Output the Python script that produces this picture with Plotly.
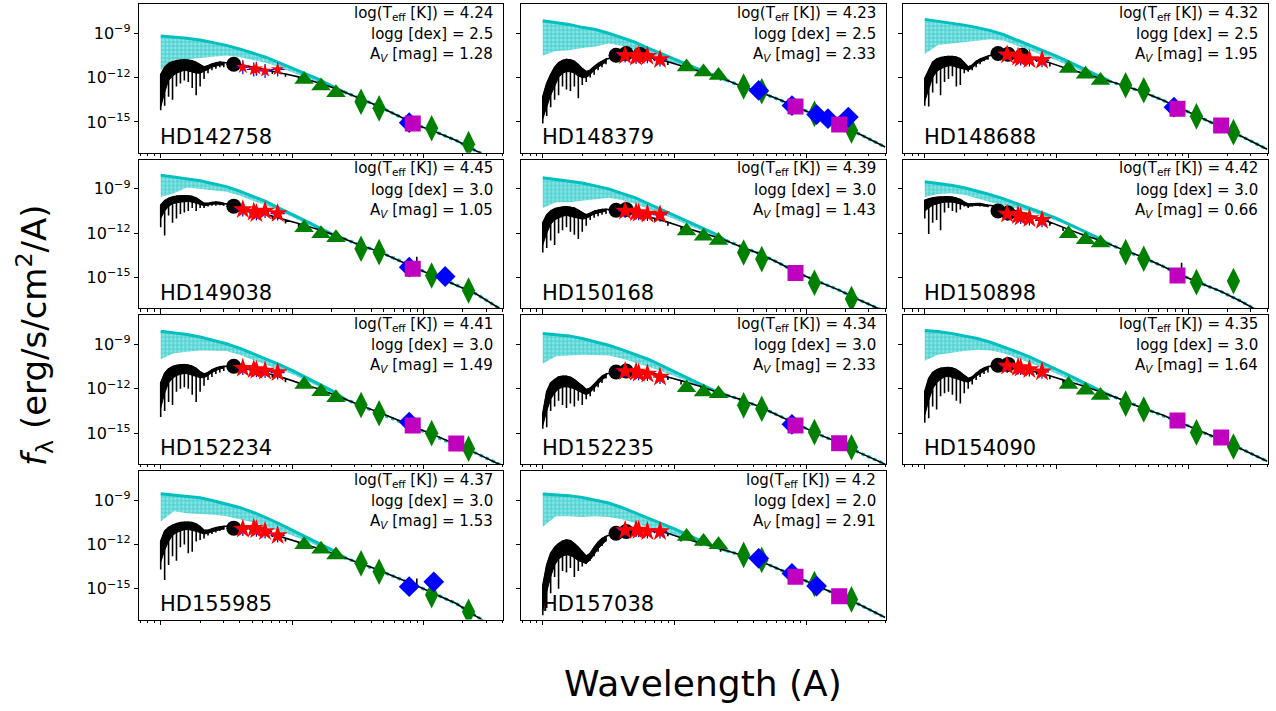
import plotly.graph_objects as go

# ---------------- panel labels ----------------
NAMES = ["HD142758", "HD148379", "HD148688", "HD149038", "HD150168", "HD150898",
         "HD152234", "HD152235", "HD154090", "HD155985", "HD157038"]
LOG_TEFF = ["4.24", "4.23", "4.32", "4.45", "4.39", "4.42", "4.41", "4.34", "4.35", "4.37", "4.2"]
LOGG = ["2.5", "2.5", "2.5", "3.0", "3.0", "3.0", "3.0", "3.0", "3.0", "3.0", "2.0"]
AV = ["1.28", "2.33", "1.95", "1.05", "1.43", "0.66", "1.49", "2.33", "1.64", "1.53", "2.91"]

# ---------------- model spectra (log10 wavelength [A], log10 flux) ----------------
UV_LOGLAM = [3.00, 3.03, 3.06, 3.09, 3.12, 3.15, 3.18, 3.21, 3.24, 3.27, 3.30, 3.33, 3.36, 3.39, 3.42, 3.45, 3.48]
OPT_LOGLAM = [3.55, 3.65, 3.75, 3.85, 3.95, 4.05, 4.20, 4.35, 4.50, 4.65, 4.80, 4.95, 5.10, 5.25, 5.40, 5.60]
CYAN_LOGLAM = [3.0, 3.1, 3.2, 3.3, 3.4, 3.5, 3.6, 3.7, 3.8, 3.9, 4.0, 4.1, 4.2, 4.3, 4.4]

BLACK_UV_TOP = [
    [-11.8, -11.3, -11.05, -10.93, -10.86, -10.82, -10.8, -10.82, -10.87, -10.97, -11.12, -11.28, -11.2, -11.08, -11.0, -10.96, -10.98],
    [-13.3, -12.4, -11.8, -11.3, -11.0, -10.85, -10.78, -10.8, -10.9, -11.12, -11.4, -11.6, -11.5, -11.25, -11.05, -10.9, -10.75],
    [-12.07, -11.5, -10.95, -10.75, -10.65, -10.6, -10.57, -10.57, -10.62, -10.72, -11.0, -11.28, -11.15, -10.9, -10.75, -10.65, -10.55],
    [-10.1, -9.8, -9.65, -9.55, -9.5, -9.48, -9.47, -9.48, -9.52, -9.62, -9.8, -9.98, -9.98, -9.92, -9.9, -9.92, -9.98],
    [-11.3, -10.75, -10.5, -10.35, -10.28, -10.23, -10.22, -10.25, -10.3, -10.45, -10.62, -10.75, -10.65, -10.52, -10.45, -10.4, -10.38],
    [-9.77, -9.68, -9.62, -9.58, -9.55, -9.54, -9.54, -9.57, -9.63, -9.72, -9.9, -10.03, -10.02, -10.0, -10.0, -10.05, -10.1],
    [-11.6, -10.95, -10.65, -10.5, -10.42, -10.38, -10.37, -10.4, -10.48, -10.62, -10.85, -11.0, -10.9, -10.72, -10.6, -10.52, -10.48],
    [-13.7, -12.2, -11.6, -11.38, -11.2, -11.15, -11.15, -11.22, -11.38, -11.6, -11.8, -12.05, -11.95, -11.7, -11.4, -11.15, -11.0],
    [-12.2, -11.3, -10.9, -10.72, -10.62, -10.58, -10.57, -10.6, -10.7, -10.88, -11.1, -11.3, -11.2, -10.95, -10.75, -10.6, -10.5],
    [-11.8, -11.1, -10.85, -10.7, -10.6, -10.53, -10.5, -10.5, -10.53, -10.62, -10.8, -11.05, -11.05, -10.95, -10.87, -10.82, -10.78],
    [-14.8, -13.4, -12.6, -12.2, -11.95, -11.78, -11.7, -11.75, -11.95, -12.2, -12.5, -12.8, -12.6, -12.2, -11.85, -11.6, -11.45],
]
# lower edge of the dense line-blanketed band
BLACK_UV_FLOOR = [
    [-14.0, -13.0, -12.2, -11.9, -11.7, -11.6, -11.5, -11.55, -11.6, -11.7, -11.7, -11.6, -11.45, -11.3, -11.2, -11.15, -11.15],
    [-14.8, -14.0, -13.2, -12.6, -12.0, -11.7, -11.6, -11.6, -11.7, -11.9, -12.0, -12.0, -11.8, -11.5, -11.3, -11.1, -10.95],
    [-13.6, -12.8, -12.0, -11.6, -11.4, -11.3, -11.2, -11.2, -11.3, -11.4, -11.45, -11.5, -11.35, -11.1, -10.95, -10.8, -10.7],
    [-11.0, -10.5, -10.2, -10.0, -9.95, -9.9, -9.85, -9.85, -9.9, -9.95, -10.05, -10.15, -10.12, -10.05, -10.02, -10.03, -10.08],
    [-12.8, -12.0, -11.4, -11.1, -10.95, -10.85, -10.8, -10.85, -10.9, -11.0, -11.05, -11.0, -10.85, -10.7, -10.6, -10.55, -10.5],
    [-10.5, -10.3, -10.1, -10.0, -9.95, -9.9, -9.88, -9.9, -9.95, -10.0, -10.1, -10.18, -10.15, -10.12, -10.12, -10.15, -10.2],
    [-13.3, -12.3, -11.6, -11.3, -11.1, -11.0, -10.95, -11.0, -11.05, -11.15, -11.25, -11.25, -11.1, -10.9, -10.75, -10.65, -10.6],
    [-14.5, -13.5, -12.7, -12.3, -12.0, -11.9, -11.85, -11.9, -12.0, -12.15, -12.3, -12.4, -12.25, -12.0, -11.7, -11.4, -11.2],
    [-13.8, -12.8, -12.0, -11.6, -11.35, -11.2, -11.15, -11.2, -11.3, -11.4, -11.5, -11.55, -11.4, -11.15, -10.95, -10.8, -10.65],
    [-13.2, -12.4, -11.8, -11.4, -11.2, -11.1, -11.0, -11.0, -11.05, -11.1, -11.2, -11.3, -11.25, -11.15, -11.05, -11.0, -10.95],
    [-16.5, -15.2, -14.2, -13.4, -13.0, -12.8, -12.7, -12.75, -12.9, -13.1, -13.2, -13.3, -13.05, -12.7, -12.3, -12.0, -11.75],
]
BLACK_UV_DIP = [
    [-14.2, -13.9, -13.3, -13.5, -12.6, -12.4, -12.2, -12.3, -12.7, -13.2, -12.6, -12.1, -11.7, -11.5, -11.4, -11.3, -11.3],
    [-15.1, -14.6, -14.0, -13.5, -13.2, -12.6, -12.8, -12.9, -12.6, -13.4, -12.5, -12.3, -12.0, -11.8, -11.5, -11.3, -11.1],
    [-13.9, -13.95, -13.0, -12.4, -13.2, -12.3, -12.1, -11.9, -12.6, -12.5, -11.7, -11.6, -11.5, -11.3, -11.1, -10.9, -10.8],
    [-11.6, -12.15, -10.8, -11.3, -11.0, -10.7, -10.6, -10.5, -10.3, -10.5, -10.3, -10.3, -10.2, -10.15, -10.15, -10.1, -10.15],
    [-13.3, -13.0, -12.5, -12.8, -12.0, -11.8, -11.6, -11.9, -12.1, -12.4, -11.9, -11.5, -11.1, -10.95, -10.85, -10.75, -10.7],
    [-11.0, -12.05, -11.3, -11.1, -11.8, -10.6, -10.3, -10.5, -10.6, -10.4, -10.2, -10.3, -10.2, -10.15, -10.2, -10.2, -10.25],
    [-13.9, -13.5, -12.9, -13.1, -12.2, -12.0, -11.9, -12.0, -12.4, -12.9, -12.2, -11.8, -11.4, -11.2, -11.0, -10.9, -10.8],
    [-14.7, -14.6, -13.5, -13.2, -12.8, -13.1, -13.3, -13.0, -13.2, -12.8, -13.1, -12.7, -12.5, -12.2, -11.9, -11.6, -11.3],
    [-14.3, -14.0, -13.2, -13.4, -12.5, -12.3, -12.2, -12.4, -12.8, -13.0, -12.3, -12.0, -11.7, -11.4, -11.2, -11.0, -10.9],
    [-13.7, -14.4, -13.4, -12.8, -13.1, -12.2, -12.0, -12.6, -12.5, -11.8, -11.7, -11.6, -11.4, -11.3, -11.2, -11.1, -11.0],
    [-16.8, -16.3, -15.3, -14.2, -15.0, -13.8, -13.9, -13.6, -14.2, -13.8, -13.5, -13.3, -13.1, -12.8, -12.5, -12.1, -11.8],
]
BLACK_OPT = [
    [-11.05, -11.2, -11.38, -11.57, -11.76, -11.95, -12.35, -12.8, -13.35, -13.9, -14.55, -15.2, -15.7, -16.25, -16.95, -17.8],
    [-10.6, -10.5, -10.55, -10.7, -10.92, -11.2, -11.6, -12.0, -12.55, -12.98, -13.5, -14.05, -14.65, -15.25, -15.8, -16.7],
    [-10.35, -10.42, -10.55, -10.75, -11.0, -11.3, -11.7, -12.1, -12.5, -12.95, -13.5, -14.1, -14.7, -15.3, -15.95, -16.85],
    [-10.1, -10.35, -10.6, -10.85, -11.1, -11.35, -11.75, -12.2, -12.75, -13.2, -13.8, -14.4, -14.95, -15.5, -16.1, -17.2],
    [-10.42, -10.6, -10.8, -11.0, -11.25, -11.55, -11.95, -12.35, -12.9, -13.4, -14.05, -14.75, -15.3, -15.85, -16.5, -17.3],
    [-10.18, -10.4, -10.62, -10.95, -11.25, -11.6, -12.1, -12.55, -13.1, -13.6, -14.2, -14.85, -15.4, -15.95, -16.6, -17.6],
    [-10.47, -10.6, -10.8, -11.05, -11.3, -11.6, -12.0, -12.5, -13.05, -13.55, -14.1, -14.65, -15.2, -15.75, -16.35, -17.2],
    [-10.86, -10.75, -10.8, -10.98, -11.2, -11.45, -11.85, -12.3, -12.72, -13.22, -13.85, -14.5, -15.1, -15.65, -16.3, -17.1],
    [-10.42, -10.48, -10.65, -10.88, -11.12, -11.4, -11.8, -12.25, -12.75, -13.3, -13.75, -14.3, -14.9, -15.45, -16.05, -16.9],
    [-10.75, -10.85, -11.05, -11.3, -11.58, -11.85, -12.28, -12.72, -13.22, -13.7, -14.25, -14.8, -15.4, -16.0, -16.85, -17.9],
    [-11.24, -11.03, -11.0, -11.08, -11.25, -11.55, -11.9, -12.3, -12.7, -13.12, -13.7, -14.3, -14.9, -15.45, -16.05, -16.95],
]
BLACK_OPT_DIP = [
    [-11.05, -11.35, -11.5, -11.75, -11.95, -12.2, -12.55, -12.95, -13.5, -14.1, -14.55, -15.2, -15.7, -16.25, -16.95, -17.8],
    [-10.6, -10.65, -10.7, -10.9, -11.15, -11.45, -11.8, -12.2, -12.7, -13.15, -13.5, -14.05, -14.65, -15.25, -15.8, -16.7],
    [-10.35, -10.55, -10.7, -10.95, -11.25, -11.55, -11.9, -12.3, -12.65, -13.15, -13.5, -14.1, -14.7, -15.3, -15.95, -16.85],
    [-10.1, -10.5, -10.75, -11.05, -11.35, -11.6, -11.95, -12.4, -12.9, -13.4, -13.8, -13.6, -14.95, -15.5, -16.1, -17.2],
    [-10.42, -10.75, -10.95, -11.2, -11.5, -11.8, -12.15, -12.55, -13.05, -13.6, -14.05, -14.75, -15.3, -15.85, -16.5, -17.3],
    [-10.18, -10.55, -10.8, -11.15, -11.5, -11.85, -12.3, -12.75, -13.25, -13.85, -14.2, -14.0, -15.4, -15.95, -16.6, -17.6],
    [-10.47, -10.75, -10.95, -11.25, -11.55, -11.85, -12.2, -12.7, -13.2, -13.75, -14.1, -14.2, -15.2, -15.75, -16.35, -17.2],
    [-10.86, -10.9, -10.95, -11.15, -11.4, -11.7, -12.05, -12.5, -12.9, -13.4, -13.85, -14.5, -15.1, -15.65, -16.3, -17.1],
    [-10.42, -10.6, -10.8, -11.05, -11.35, -11.65, -12.0, -12.45, -12.9, -13.5, -13.75, -14.3, -14.9, -15.45, -16.05, -16.9],
    [-10.75, -11.0, -11.2, -11.5, -11.8, -12.1, -12.45, -12.9, -13.4, -13.9, -14.25, -14.3, -15.4, -16.0, -16.85, -17.9],
    [-11.24, -11.15, -11.15, -11.25, -11.45, -11.8, -12.1, -12.5, -12.85, -13.3, -13.7, -14.3, -14.9, -15.45, -16.05, -16.95],
]
CYAN_TOP = [
    [-9.18, -9.25, -9.33, -9.45, -9.62, -9.82, -10.06, -10.33, -10.62, -10.98, -11.35, -11.75, -12.1, -12.55, -13.0],
    [-8.16, -8.28, -8.4, -8.6, -8.75, -9.0, -9.3, -9.6, -10.0, -10.38, -10.75, -11.15, -11.5, -11.85, -12.2],
    [-8.06, -8.18, -8.32, -8.45, -8.62, -8.82, -9.1, -9.45, -9.8, -10.15, -10.55, -10.95, -11.4, -11.8, -12.2],
    [-8.07, -8.2, -8.3, -8.45, -8.65, -8.85, -9.15, -9.5, -9.85, -10.3, -10.7, -11.15, -11.6, -12.05, -12.4],
    [-8.25, -8.35, -8.45, -8.6, -8.8, -9.0, -9.3, -9.6, -10.0, -10.4, -10.8, -11.2, -11.6, -12.0, -12.55],
    [-8.52, -8.62, -8.75, -8.92, -9.15, -9.4, -9.68, -10.0, -10.3, -10.65, -11.0, -11.4, -11.8, -12.25, -12.73],
    [-8.1, -8.2, -8.33, -8.5, -8.7, -8.95, -9.25, -9.6, -9.95, -10.35, -10.75, -11.2, -11.65, -12.1, -12.68],
    [-8.26, -8.32, -8.42, -8.6, -8.8, -9.05, -9.35, -9.65, -10.0, -10.42, -10.85, -11.3, -11.7, -12.1, -12.44],
    [-8.05, -8.12, -8.25, -8.42, -8.6, -8.85, -9.15, -9.5, -9.85, -10.25, -10.65, -11.1, -11.55, -12.0, -12.42],
    [-8.57, -8.65, -8.75, -8.85, -9.05, -9.25, -9.5, -9.82, -10.18, -10.6, -11.05, -11.5, -11.9, -12.35, -12.88],
    [-8.59, -8.62, -8.7, -8.82, -9.0, -9.2, -9.5, -9.86, -10.2, -10.58, -10.95, -11.35, -11.75, -12.15, -12.43],
]
CYAN_BOT = [
    [-11.5, -10.8, -10.75, -10.7, -10.6, -10.5, -10.6, -10.8, -11.0, -11.3, -11.6, -11.95, -12.3, -12.65, -13.0],
    [-10.5, -10.2, -10.15, -10.0, -9.9, -9.7, -9.85, -10.1, -10.4, -10.7, -11.0, -11.3, -11.6, -11.9, -12.2],
    [-10.4, -9.8, -9.75, -9.6, -9.5, -9.4, -9.5, -9.8, -10.15, -10.5, -10.85, -11.2, -11.6, -11.95, -12.2],
    [-9.55, -9.3, -8.9, -8.95, -9.1, -9.2, -9.45, -9.8, -10.1, -10.5, -10.9, -11.3, -11.75, -12.15, -12.4],
    [-10.3, -9.9, -9.9, -9.8, -9.7, -9.6, -9.75, -10.0, -10.35, -10.7, -11.05, -11.45, -11.8, -12.2, -12.55],
    [-9.55, -9.35, -9.3, -9.4, -9.65, -9.9, -10.1, -10.3, -10.55, -10.85, -11.15, -11.5, -11.9, -12.3, -12.73],
    [-10.0, -9.6, -9.5, -9.4, -9.4, -9.45, -9.7, -10.0, -10.35, -10.7, -11.0, -11.4, -11.85, -12.3, -12.68],
    [-10.3, -9.8, -9.75, -9.7, -9.7, -9.75, -9.95, -10.2, -10.5, -10.8, -11.1, -11.5, -11.85, -12.2, -12.44],
    [-10.1, -9.7, -9.6, -9.45, -9.35, -9.4, -9.6, -9.9, -10.25, -10.6, -10.95, -11.35, -11.75, -12.15, -12.42],
    [-10.45, -9.75, -9.9, -9.95, -10.0, -10.1, -10.3, -10.5, -10.8, -11.1, -11.4, -11.75, -12.1, -12.5, -12.88],
    [-10.8, -10.1, -10.1, -10.15, -10.1, -10.15, -10.3, -10.55, -10.8, -11.1, -11.4, -11.7, -12.0, -12.3, -12.43],
]

# ---------------- photometry (wavelength [A], log10 flux) ----------------
CIRCLE_LAM = [3600, 4300, 5500]
CIRCLE_LOGF = [
    [-11.1, None, None], [-10.49, -10.37, -10.44], [-10.37, -10.42, -10.49], [-10.17, None, None],
    [-10.45, -10.4, None], [-10.49, -10.63, None], [-10.47, None, None], [-10.86, -10.79, None],
    [-10.41, -10.35, None], [-10.9, None, None], [-11.24, -11.13, None],
]
STAR_LAM = [4220, 5110, 5350, 6230, 7770]
STAR_LOGF = [
    [-11.3, -11.45, -11.4, -11.55, -11.45], [-10.5, -10.6, -10.5, -10.55, -10.78],
    [-10.45, -10.6, -10.7, -10.78, -10.83], [-10.4, -10.56, -10.67, -10.5, -10.67],
    [-10.5, -10.6, -10.65, -10.7, -10.75], [-10.7, -10.8, -10.9, -11.0, -11.13],
    [-10.6, -10.7, -10.75, -10.8, -10.9], [-10.82, -10.86, -10.95, -11.0, -11.2],
    [-10.45, -10.55, -10.6, -10.7, -10.85], [-10.95, -10.9, -11.0, -11.13, -11.4],
    [-11.05, -11.02, -11.05, -11.13, -11.13],
]
TWOMASS_LAM = [12350, 16620, 21590]
TWOMASS_LOGF = [
    [-12.12, -12.56, -13.02], [-11.28, -11.62, -11.85], [-11.39, -11.78, -12.19], [-11.63, -12.03, -12.31],
    [-11.85, -12.2, -12.5], [-12.03, -12.44, -12.67], [-11.7, -12.2, -12.6], [-11.92, -12.22, -12.33],
    [-11.7, -12.1, -12.45], [-12.03, -12.33, -12.71], [-11.47, -11.81, -12.03],
]
WISE_LAM = [33526, 46028, 115608, 220883]
WISE_LOGF = [
    [-13.63, -14.08, -15.43, -16.5], [-12.6, -12.92, -14.45, -15.58], [-12.52, -12.86, -14.62, -15.69],
    [-13.05, -13.28, -14.86, -15.88], [-13.3, -13.75, -15.35, -16.45], [-13.28, -13.73, -15.31, -15.24],
    [-13.1, -13.65, -15.0, -16.05], [-13.12, -13.35, -14.93, -15.95], [-13.0, -13.4, -14.95, -15.9],
    [-13.28, -13.85, -15.43, -16.56], [-12.71, -13.05, -14.68, -15.72],
]
AKARI_LAM = [83000, 178000]
AKARI_LOGF = [
    [-15.1, None], [-13.95, -15.17], [-14.11, -15.24], [-14.41, None], [-14.7, None], [-14.86, None],
    [-14.48, -15.7], [-14.48, -15.68], [-14.14, -15.3], [None, None], [-14.18, -15.5],
]
MSX_LAM = [43600, 78000, 120000, 146500, 209000]
MSX_LOGF = [
    [None, -15.05, None, None, None], [-12.87, -13.89, -14.5, -14.78, -14.67],
    [None, -14.0, None, None, None], [None, -14.3, None, -14.93, None],
    [None, None, None, None, None], [None, None, None, None, None],
    [None, -14.25, None, None, None], [None, -14.4, None, None, None],
    [None, None, None, None, None], [None, -14.86, -14.53, None, None],
    [-12.94, -13.96, -14.82, None, None],
]

# ---------------- layout geometry ----------------
W, H = 1276, 711
COL_PX = [(139.3, 502.7), (521.3, 885.7), (903.3, 1267.7)]
ROW_PX = [(4.0, 152.7), (159.6, 308.3), (315.2, 463.9), (470.8, 619.5)]
XRANGE = [2.837, 5.604]
YRANGE = [-17.08, -7.02]
FONT = "DejaVu Sans"
CYAN = "#00bfbf"
GREEN = "#008000"
BLUE = "#0000ff"
MAGENTA = "#bf00bf"
RED = "#ff0000"

MINOR_X = [k * 10 ** d for d in range(2, 6) for k in range(2, 10)]


def pw(v):
    return [10 ** a for a in v]


def pts(lams, vals):
    xs = [l for l, v in zip(lams, vals) if v is not None]
    ys = [10 ** v for v in vals if v is not None]
    return xs, ys


fig = go.Figure()
layout = dict(
    width=W, height=H, autosize=False,
    margin=dict(l=0, r=0, t=0, b=0),
    paper_bgcolor="white", plot_bgcolor="white",
    showlegend=False,
    font=dict(family=FONT, color="black"),
)
annotations = []

for i, name in enumerate(NAMES):
    r, c = divmod(i, 3)
    sfx = "" if i == 0 else str(i + 1)
    xa, ya = "x" + sfx, "y" + sfx

    # --- cyan unreddened model: dotted band + dense top edge ---
    cx = CYAN_LOGLAM + CYAN_LOGLAM[::-1]
    cy = CYAN_TOP[i] + CYAN_BOT[i][::-1]
    fig.add_trace(go.Scatter(
        x=pw(cx), y=pw(cy), xaxis=xa, yaxis=ya, mode="lines",
        line=dict(width=0, color=CYAN), fill="toself", fillcolor="rgba(0,191,191,0.35)",
        fillpattern=dict(shape=".", fgcolor=CYAN, size=4, solidity=0.7, fillmode="overlay"),
        hoverinfo="skip"))
    fig.add_trace(go.Scatter(
        x=pw(CYAN_LOGLAM), y=pw(CYAN_TOP[i]), xaxis=xa, yaxis=ya, mode="lines",
        line=dict(width=3, color=CYAN), hoverinfo="skip"))
    ir_x = [v for v in OPT_LOGLAM if v >= 4.35]
    ir_y = BLACK_OPT[i][len(OPT_LOGLAM) - len(ir_x):]
    fig.add_trace(go.Scatter(
        x=pw(ir_x), y=pw(ir_y), xaxis=xa, yaxis=ya, mode="lines",
        line=dict(width=3.2, color=CYAN, dash="dot"), hoverinfo="skip"))

    # --- black reddened model: dense UV band + absorption spikes ---
    bx = UV_LOGLAM + UV_LOGLAM[::-1]
    by = BLACK_UV_TOP[i] + BLACK_UV_FLOOR[i][::-1]
    fig.add_trace(go.Scatter(
        x=pw(bx), y=pw(by), xaxis=xa, yaxis=ya, mode="lines",
        line=dict(width=1, color="black"), fill="toself", fillcolor="black", hoverinfo="skip"))
    kx, ky = [], []
    for lam, top, dip in zip(UV_LOGLAM + OPT_LOGLAM, BLACK_UV_TOP[i] + BLACK_OPT[i],
                             BLACK_UV_DIP[i] + BLACK_OPT_DIP[i]):
        kx += [lam, lam, lam]
        ky += [top, dip, top]
    fig.add_trace(go.Scatter(
        x=pw(kx), y=pw(ky), xaxis=xa, yaxis=ya, mode="lines",
        line=dict(width=1.6, color="black"), hoverinfo="skip"))

    # circles
    x_, y_ = pts(CIRCLE_LAM, CIRCLE_LOGF[i])
    fig.add_trace(go.Scatter(x=x_, y=y_, xaxis=xa, yaxis=ya, mode="markers",
                             marker=dict(symbol="circle", size=15, color="black", line=dict(width=0))))
    # blue error crosses + red stars
    x_, y_ = pts(STAR_LAM, STAR_LOGF[i])
    fig.add_trace(go.Scatter(x=x_, y=y_, xaxis=xa, yaxis=ya, mode="markers",
                             marker=dict(symbol="cross-thin", size=10, color=BLUE,
                                         line=dict(width=1.2, color=BLUE))))
    fig.add_trace(go.Scatter(x=x_, y=y_, xaxis=xa, yaxis=ya, mode="markers",
                             marker=dict(symbol="star", size=10 if i == 0 else 15, color=RED,
                                         line=dict(width=0))))
    # 2MASS triangles
    x_, y_ = pts(TWOMASS_LAM, TWOMASS_LOGF[i])
    fig.add_trace(go.Scatter(x=x_, y=y_, xaxis=xa, yaxis=ya, mode="markers",
                             marker=dict(symbol="triangle-up", size=17, color=GREEN, line=dict(width=0))))
    # WISE thin diamonds
    x_, y_ = pts(WISE_LAM, WISE_LOGF[i])
    fig.add_trace(go.Scatter(x=x_, y=y_, xaxis=xa, yaxis=ya, mode="markers",
                             marker=dict(symbol="diamond-tall", size=19, color=GREEN, line=dict(width=0))))
    # MSX blue diamonds
    x_, y_ = pts(MSX_LAM, MSX_LOGF[i])
    if x_:
        fig.add_trace(go.Scatter(x=x_, y=y_, xaxis=xa, yaxis=ya, mode="markers",
                                 marker=dict(symbol="diamond", size=16, color=BLUE, line=dict(width=0))))
    # magenta squares
    x_, y_ = pts(AKARI_LAM, AKARI_LOGF[i])
    if x_:
        fig.add_trace(go.Scatter(x=x_, y=y_, xaxis=xa, yaxis=ya, mode="markers",
                                 marker=dict(symbol="square", size=16, color=MAGENTA, line=dict(width=0))))

    x0, x1 = COL_PX[c]
    y0, y1 = ROW_PX[r]
    layout["xaxis" + sfx] = dict(
        domain=[x0 / W, x1 / W], anchor=ya, type="log", range=XRANGE,
        showgrid=False, zeroline=False, showline=True, mirror=True, linecolor="black", linewidth=1,
        ticks="outside", ticklen=4.5, tickwidth=1, tickcolor="black",
        tickvals=[1e3, 1e4, 1e5], showticklabels=False,
        minor=dict(ticks="outside", ticklen=2.5, tickwidth=0.8, tickcolor="black", tickvals=MINOR_X, showgrid=False),
    )
    layout["yaxis" + sfx] = dict(
        domain=[1 - y1 / H, 1 - y0 / H], anchor=xa, type="log", range=YRANGE,
        showgrid=False, zeroline=False, showline=True, mirror=True, linecolor="black", linewidth=1,
        ticks="outside", ticklen=4.5, tickwidth=1, tickcolor="black",
        tickvals=[1e-9, 1e-12, 1e-15],
        ticktext=["10<sup>\u22129</sup>", "10<sup>\u221212</sup>", "10<sup>\u221215</sup>"],
        showticklabels=(c == 0), tickfont=dict(family=FONT, size=16, color="black"),
    )

    lines = [
        "log(T<sub>eff</sub> [K]) = " + LOG_TEFF[i],
        "logg [dex] = " + LOGG[i],
        "A<sub><i>V</i></sub> [mag] = " + AV[i],
    ]
    for txt, yy in zip(lines, [0.937, 0.798, 0.659]):
        annotations.append(dict(
            text=txt, xref=xa + " domain", yref=ya + " domain", x=0.979, y=yy,
            xanchor="right", yanchor="middle", showarrow=False,
            font=dict(family=FONT, size=15, color="black")))
    annotations.append(dict(
        text=name, xref=xa + " domain", yref=ya + " domain", x=0.052, y=0.104,
        xanchor="left", yanchor="middle", showarrow=False,
        font=dict(family=FONT, size=21, color="black")))

annotations.append(dict(
    text="Wavelength (A)", xref="paper", yref="paper", x=703 / W, y=1 - 683 / H,
    xanchor="center", yanchor="middle", showarrow=False,
    font=dict(family=FONT, size=36, color="black")))
annotations.append(dict(
    text="<i>f</i><sub>\u03bb</sub> (erg/s/cm<sup>2</sup>/A)", xref="paper", yref="paper",
    x=35 / W, y=1 - 335 / H, xanchor="center", yanchor="middle", showarrow=False, textangle=-90,
    font=dict(family=FONT, size=34, color="black")))

layout["annotations"] = annotations
fig.update_layout(**layout)
fig.write_html("out.html")
